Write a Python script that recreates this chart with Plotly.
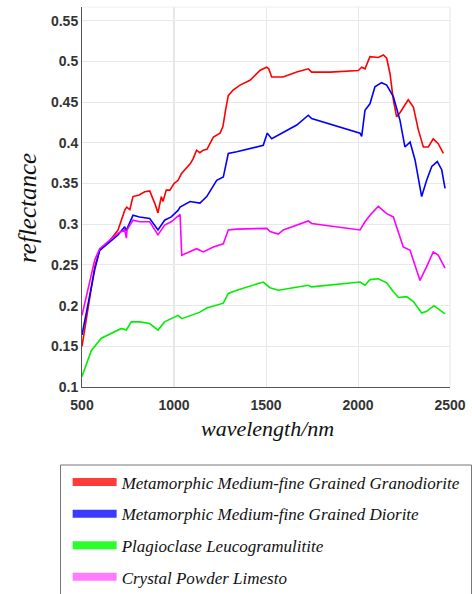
import plotly.graph_objects as go

# Reflectance spectra of four rock samples (wavelength in nm)
names = [
    "Metamorphic Medium-fine Grained Granodiorite",
    "Metamorphic Medium-fine Grained Diorite",
    "Plagioclase Leucogramulitite",
    "Crystal Powder Limesto",
]
colors = ["#ff0000", "#0000ff", "#00ee00", "#ff00ff"]
legend_colors = ["#ff3b3b", "#3b3bff", "#2bff2b", "#ff7bff"]

granodiorite_wl = [500, 533, 569, 596, 641, 696, 732, 743, 760, 777, 810, 841, 868, 895, 913, 931,
                   940, 958, 978, 1000, 1022, 1040, 1070, 1090, 1103, 1123, 1140, 1159, 1179, 1214,
                   1250, 1266, 1280, 1295, 1321, 1359, 1413, 1467, 1485, 1504, 1515, 1531, 1593,
                   1667, 1730, 1748, 1848, 2002, 2020, 2038, 2065, 2110, 2138, 2156, 2174, 2192,
                   2210, 2228, 2273, 2301, 2328, 2355, 2382, 2409, 2436, 2464]
granodiorite_r = [0.150, 0.199, 0.248, 0.268, 0.277, 0.293, 0.317, 0.321, 0.318, 0.334, 0.336,
                  0.340, 0.341, 0.326, 0.314, 0.334, 0.328, 0.342, 0.342, 0.350, 0.354, 0.362,
                  0.370, 0.375, 0.380, 0.391, 0.388, 0.391, 0.392, 0.407, 0.412, 0.420, 0.440,
                  0.458, 0.465, 0.471, 0.477, 0.489, 0.491, 0.493, 0.491, 0.481, 0.481, 0.487,
                  0.491, 0.487, 0.487, 0.489, 0.493, 0.491, 0.506, 0.505, 0.508, 0.504, 0.485,
                  0.453, 0.432, 0.437, 0.453, 0.444, 0.416, 0.395, 0.395, 0.405, 0.399, 0.387]

diorite_wl = [500, 533, 569, 596, 641, 696, 732, 740, 777, 813, 868, 913, 949, 985, 1022, 1033,
              1087, 1141, 1178, 1232, 1268, 1295, 1341, 1485, 1507, 1531, 1667, 1730, 1748, 2011,
              2020, 2038, 2065, 2092, 2128, 2156, 2192, 2228, 2255, 2283, 2310, 2346, 2373, 2401,
              2431, 2455, 2473]
diorite_r = [0.164, 0.203, 0.244, 0.268, 0.277, 0.287, 0.297, 0.292, 0.311, 0.309, 0.307, 0.293,
             0.305, 0.309, 0.317, 0.321, 0.328, 0.326, 0.334, 0.354, 0.358, 0.387, 0.389, 0.397,
             0.412, 0.405, 0.422, 0.434, 0.430, 0.412, 0.408, 0.440, 0.448, 0.469, 0.474, 0.471,
             0.457, 0.428, 0.395, 0.401, 0.379, 0.334, 0.354, 0.371, 0.377, 0.367, 0.344]

leucogranulite_wl = [500, 551, 605, 659, 714, 741, 768, 813, 868, 913, 949, 985, 1022, 1042, 1087,
                     1141, 1178, 1268, 1295, 1341, 1485, 1522, 1567, 1730, 1748, 2011, 2038, 2065,
                     2110, 2156, 2192, 2219, 2264, 2301, 2346, 2373, 2413, 2446, 2473]
leucogranulite_r = [0.113, 0.145, 0.160, 0.166, 0.172, 0.170, 0.180, 0.180, 0.178, 0.170, 0.180,
                    0.184, 0.188, 0.184, 0.188, 0.192, 0.197, 0.203, 0.215, 0.219, 0.229, 0.222,
                    0.219, 0.225, 0.223, 0.229, 0.225, 0.232, 0.233, 0.228, 0.217, 0.210, 0.211,
                    0.205, 0.191, 0.193, 0.200, 0.195, 0.190]

limestone_wl = [500, 533, 569, 596, 641, 696, 732, 741, 745, 777, 813, 868, 913, 949, 985, 1023,
                1033, 1042, 1087, 1123, 1159, 1214, 1268, 1295, 1341, 1504, 1522, 1567, 1594, 1730,
                1748, 2011, 2038, 2065, 2110, 2156, 2192, 2219, 2246, 2283, 2337, 2373, 2409, 2436,
                2473]
limestone_r = [0.188, 0.219, 0.256, 0.270, 0.279, 0.289, 0.293, 0.283, 0.293, 0.305, 0.303, 0.303,
               0.287, 0.299, 0.303, 0.311, 0.312, 0.262, 0.266, 0.270, 0.266, 0.272, 0.276, 0.293,
               0.294, 0.295, 0.291, 0.288, 0.293, 0.304, 0.301, 0.293, 0.303, 0.311, 0.322, 0.313,
               0.309, 0.289, 0.272, 0.268, 0.231, 0.248, 0.266, 0.262, 0.246]

x_ticks = [500, 1000, 1500, 2000, 2500]
y_ticks = [0.1, 0.15, 0.2, 0.25, 0.3, 0.35, 0.4, 0.45, 0.5, 0.55]
y_tick_text = ["0.1", "0.15", "0.2", "0.25", "0.3", "0.35", "0.4", "0.45", "0.5", "0.55"]
x_title = "wavelength/nm"
y_title = "reflectance"

series = [
    (granodiorite_wl, granodiorite_r),
    (diorite_wl, diorite_r),
    (leucogranulite_wl, leucogranulite_r),
    (limestone_wl, limestone_r),
]

fig = go.Figure()
for (wl, r), color in zip(series, colors):
    fig.add_trace(go.Scatter(x=wl, y=r, mode="lines", showlegend=False,
                             line=dict(color=color, width=1.6)))

# thick swatches for the legend only
for i, (name, color) in enumerate(zip(names, legend_colors)):
    fig.add_trace(go.Scatter(x=[None], y=[None], mode="lines", name=name,
                             legendgroup=f"g{i}",
                             line=dict(color=color, width=8)))

tick_font = dict(family="Liberation Sans", size=14, weight="bold", color="#333333")
title_font = dict(family="Liberation Serif", style="italic", color="#111111")

fig.update_xaxes(
    range=[500, 2500], tickvals=x_ticks, ticks="", tickfont=tick_font, ticklabelstandoff=5,
    showgrid=True, gridcolor="#e8e8e8", gridwidth=1,
    showline=True, linecolor="#555555", linewidth=1, mirror=False, zeroline=False,
)
fig.update_yaxes(
    range=[0.1, 0.567], tickvals=y_ticks, ticktext=y_tick_text, ticks="", tickfont=tick_font,
    showgrid=True, gridcolor="#e8e8e8", gridwidth=1,
    showline=True, linecolor="#555555", linewidth=1, mirror=False, zeroline=False,
)

# axis titles
fig.add_annotation(text=x_title, xref="paper", yref="paper", x=0.505, y=-0.108,
                   xanchor="center", yanchor="middle", showarrow=False,
                   font=dict(title_font, size=22))
fig.add_annotation(text=y_title, xref="paper", yref="paper", x=-0.148, y=0.47,
                   xanchor="center", yanchor="middle", showarrow=False, textangle=-90,
                   font=dict(title_font, size=25))

# darker reference line at 1000 nm and light frame on top/right
fig.add_shape(type="line", xref="x", yref="paper", x0=1000, x1=1000, y0=0, y1=1,
              line=dict(color="#cfcfcf", width=1), layer="below")
fig.add_shape(type="line", xref="paper", yref="paper", x0=1, x1=1, y0=0, y1=1,
              line=dict(color="#e6e6e6", width=1), layer="below")
fig.add_shape(type="line", xref="paper", yref="paper", x0=0, x1=1, y0=1, y1=1,
              line=dict(color="#eeeeee", width=1), layer="below")

# legend frame, running past the right and bottom edges of the figure
fig.add_shape(type="rect", xref="paper", yref="paper", x0=-0.0584, x1=1.0584,
              y0=-0.2053, y1=-0.60, line=dict(color="#777777", width=1),
              fillcolor="rgba(0,0,0,0)", layer="above")

fig.update_layout(
    width=472, height=594,
    margin=dict(l=82, r=22, t=7, b=207, autoexpand=False),
    paper_bgcolor="white", plot_bgcolor="white",
    legend=dict(
        x=-0.039, y=-0.204, xanchor="left", yanchor="top",
        borderwidth=0, bgcolor="rgba(0,0,0,0)",
        font=dict(family="Liberation Serif", size=17, style="italic", color="#111111"),
        itemwidth=44, tracegroupgap=6.5,
    ),
)

fig.write_html("out.html")
